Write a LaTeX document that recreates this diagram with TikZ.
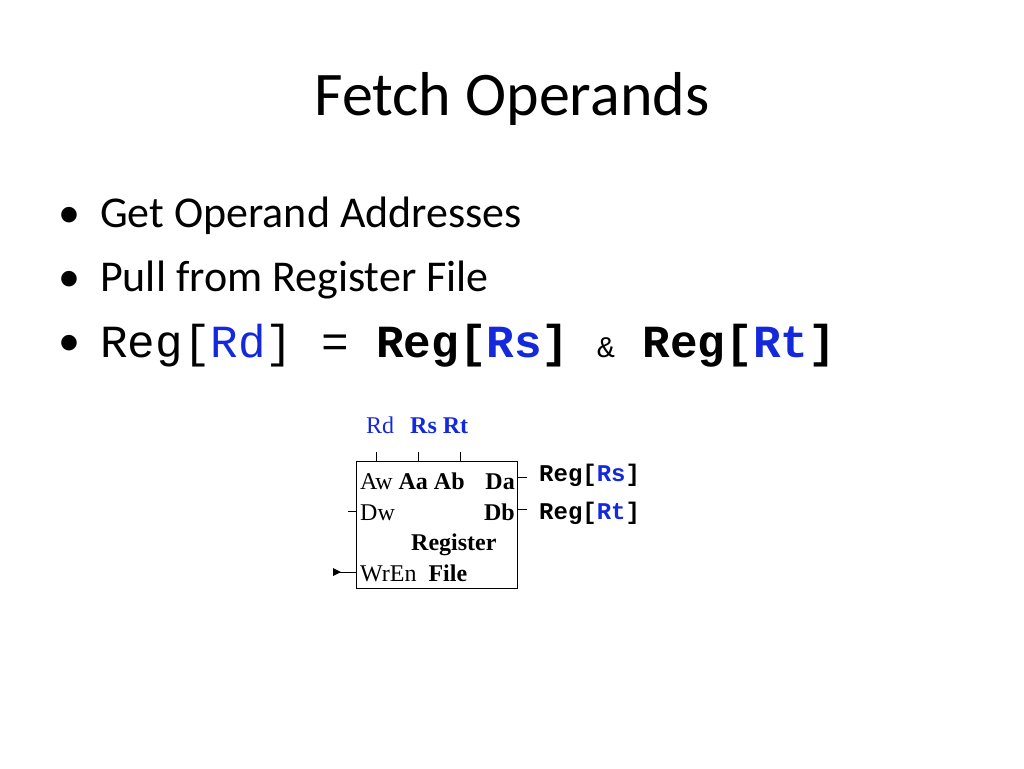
\documentclass[tikz,border=0pt]{standalone}
\usepackage{fontspec}
\setmainfont{Carlito}
\newfontfamily\cour{Liberation Mono}
\newfontfamily\tms{Liberation Serif}
\definecolor{rblue}{RGB}{20,40,220}
\begin{document}
\begin{tikzpicture}[x=1pt,y=-1pt,
  lbl/.style={inner sep=0pt,anchor=base west,font=\tms\fontsize{24}{24}\selectfont},
  wire/.style={line width=0.7pt}]
\useasboundingbox (0,0) rectangle (1024,768);
\node[anchor=base,inner sep=0pt,font=\fontsize{62}{62}\selectfont] (title) at (512,115) {Fetch Operands};
\foreach \y/\t [count=\i] in {227/Get Operand Addresses,291/Pull from Register File}
  \node[anchor=base west,inner sep=0pt,font=\fontsize{44}{44}\selectfont] (b\i) at (58,\y) {\textbullet\hspace{20pt}\t};
\node[anchor=base west,inner sep=0pt,font=\fontsize{44}{44}\selectfont] (b3) at (58,355) {\textbullet};
\node[anchor=base west,inner sep=0pt,font=\cour\fontsize{46}{46}\selectfont] (code) at (100,357)
 {Reg[\textcolor{rblue}{Rd}] = \textbf{Reg[\textcolor{rblue}{Rs}]} {\fontsize{30}{30}\selectfont\&} \textbf{Reg[\textcolor{rblue}{Rt}]}};
% register file
\draw[wire] (356,461) rectangle (517,588);
\node[lbl,text=rblue] (rd) at (366,433) {Rd};
\node[lbl,text=rblue,font=\tms\bfseries\fontsize{24}{24}\selectfont] (rsrt) at (410,433) {Rs Rt};
\foreach \x/\n in {376/a,418/b,460/c} {\coordinate (t\n) at (\x,452); \draw[wire] (t\n) -- (\x,461);}
\node[lbl] (aw) at (360,489) {Aw \textbf{Aa Ab}};
\node[lbl,anchor=base east] (da) at (515,489) {\textbf{Da}};
\node[lbl] (dw) at (360,520) {Dw};
\node[lbl,anchor=base east] (db) at (515,520) {\textbf{Db}};
\node[lbl] (reg) at (411,550) {\textbf{Register}};
\node[lbl] (wren) at (360,581) {WrEn\ \ \textbf{File}};
\coordinate (dwin) at (348,511);
\draw[wire] (dwin) -- (356,511);
\coordinate (wrin) at (333,572);
\draw[wire] (wrin) -- (356,572);
\fill (333,568) -- (341,572) -- (333,576) -- cycle;
\node[anchor=base west,inner sep=0pt,font=\cour\bfseries\fontsize{24}{24}\selectfont] (ors) at (539,481) {Reg[\textcolor{rblue}{Rs}]};
\node[anchor=base west,inner sep=0pt,font=\cour\bfseries\fontsize{24}{24}\selectfont] (ort) at (539,519) {Reg[\textcolor{rblue}{Rt}]};
\draw[wire] (517,477) -- (527,477);
\draw[wire] (517,509) -- (527,509);
\end{tikzpicture}
\end{document}
